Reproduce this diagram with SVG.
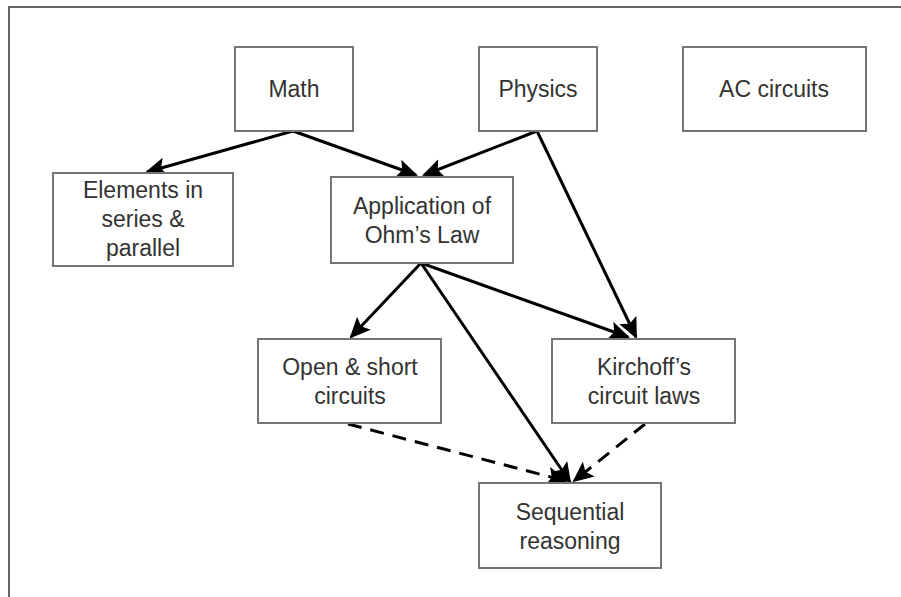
<svg xmlns="http://www.w3.org/2000/svg" width="901" height="597" viewBox="0 0 901 597">
<style>
.box{fill:#fff;stroke:#757575;stroke-width:2}
.t{font-family:"Liberation Sans",Arial,sans-serif;font-size:23px;fill:#333;text-anchor:middle}
.e{stroke:#000;stroke-width:3;fill:none}
.d{stroke-dasharray:14,9}
</style>
<defs>
<marker id="ah" viewBox="0 0 10 10" refX="9" refY="5" markerWidth="7" markerHeight="7" markerUnits="strokeWidth" orient="auto">
<path d="M0,0.5 L10,5 L0,9.5 L2,5 z" fill="#000"/>
</marker>
</defs>
<rect x="0" y="0" width="901" height="597" fill="#fff"/>
<path d="M9,597 V7 H901" fill="none" stroke="#666" stroke-width="2"/>
<g id="connectors">
<line class="e" x1="293" y1="131" x2="147" y2="172" marker-end="url(#ah)"/>
<line class="e" x1="293" y1="131" x2="416" y2="175" marker-end="url(#ah)"/>
<line class="e" x1="537" y1="131" x2="424" y2="175" marker-end="url(#ah)"/>
<line class="e" x1="537" y1="131" x2="636" y2="337" marker-end="url(#ah)"/>
<line class="e" x1="421" y1="263" x2="351" y2="337" marker-end="url(#ah)"/>
<line class="e" x1="421" y1="263" x2="628" y2="337" marker-end="url(#ah)"/>
<line class="e" x1="421" y1="263" x2="570" y2="482" marker-end="url(#ah)"/>
<line class="e d" x1="348" y1="424" x2="566" y2="481" marker-end="url(#ah)"/>
<line class="e d" x1="645" y1="424" x2="574" y2="481" marker-end="url(#ah)"/>
</g>
<g id="math"><rect class="box" x="235" y="47" width="118" height="84"/><text class="t" x="294" y="97">Math</text></g>
<g id="physics"><rect class="box" x="479" y="47" width="118" height="84"/><text class="t" x="538" y="97">Physics</text></g>
<g id="ac"><rect class="box" x="683" y="47" width="183" height="84"/><text class="t" x="774" y="97">AC circuits</text></g>
<g id="elements"><rect class="box" x="53" y="173" width="180" height="93"/><text class="t" x="143" y="198">Elements in</text><text class="t" x="143" y="227">series &amp;</text><text class="t" x="143" y="256">parallel</text></g>
<g id="ohm"><rect class="box" x="331" y="177" width="182" height="86"/><text class="t" x="422" y="214">Application of</text><text class="t" x="422" y="243">Ohm’s Law</text></g>
<g id="open"><rect class="box" x="258" y="339" width="183" height="84"/><text class="t" x="350" y="375">Open &amp; short</text><text class="t" x="350" y="404">circuits</text></g>
<g id="kirchoff"><rect class="box" x="552" y="339" width="183" height="84"/><text class="t" x="644" y="375">Kirchoff’s</text><text class="t" x="644" y="404">circuit laws</text></g>
<g id="sequential"><rect class="box" x="479" y="483" width="182" height="85"/><text class="t" x="570" y="520">Sequential</text><text class="t" x="570" y="549">reasoning</text></g>
</svg>
